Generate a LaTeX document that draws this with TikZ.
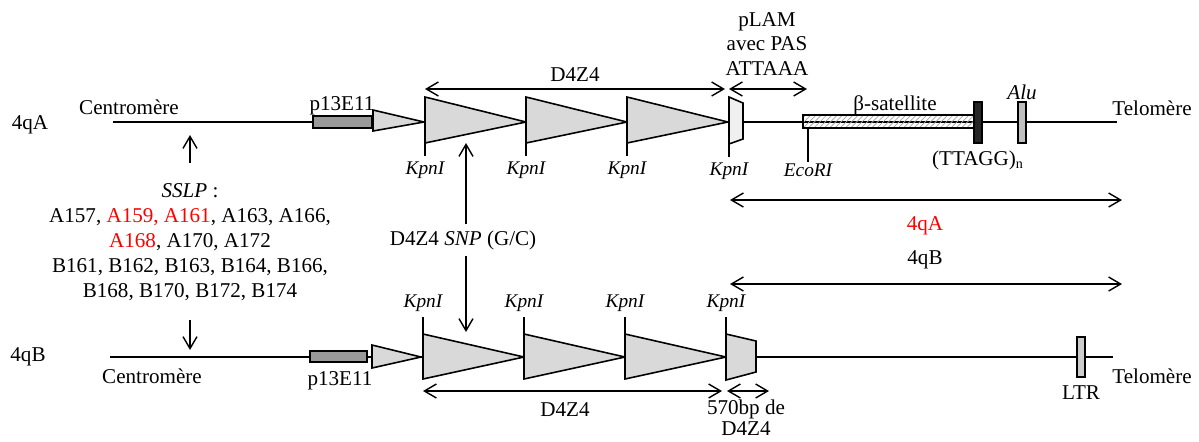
\documentclass[tikz,border=0pt]{standalone}
\usepackage{fontspec}
\setmainfont{Liberation Serif}
\usepackage{xcolor}
\usetikzlibrary{arrows.meta,positioning,calc,patterns}

\begin{document}
\begin{tikzpicture}[
  x=0.02cm,y=-0.02cm,
  txt/.style={font=\fontsize{12}{13.5}\selectfont,inner sep=1pt,align=center},
  site/.style={font=\itshape\fontsize{11}{12}\selectfont,inner sep=1pt},
  chrom/.style={line width=1.2pt},
  rep/.style={draw,line width=0.9pt,fill=black!15},
  probe/.style={draw,line width=0.9pt,fill=black!40},
  bar/.style={draw,line width=0.8pt},
  tick/.style={line width=0.9pt},
  dim/.style={<->,line width=0.8pt},
  pt/.style={->,line width=0.8pt},
  >={Straight Barb[length=2.4mm,width=2.8mm]}]
\useasboundingbox (0,0) rectangle (1199,441);
% 4qA
\coordinate (a0) at (113,122); \coordinate (a1) at (1117,122);
\draw[chrom] (a0) -- (a1);
\node[txt] (qa) at (30,125) {4qA};
\node[txt] (cenA) at (129,107) {Centromère};
\node[txt] (telA) at (1152,108) {Telomère};
\draw[probe] (313,116) rectangle (372,128);
\node[txt] (pA) at (342,106) {p13E11};
\draw[rep] (373,110) -- (373,131) -- (424,122) -- cycle;
\foreach \i in {0,1,2}{
  \draw[rep] ({425+101*\i},97) -- ({425+101*\i},143) -- ({526+101*\i},122) -- cycle;
  \coordinate (kA\i) at ({425+101*\i},143);
}
\draw[rep,fill=black!6] (729,97) -- (729,144) -- (743,139) -- (743,103) -- cycle;
\coordinate (kA3) at (729,144);
\foreach \i in {0,...,3}{
  \node[site] (lkA\i) at ($(kA\i)+(0,27)$) {KpnI};
  \draw[tick] (kA\i) -- ++(0,13);
}
\draw[bar,fill=white,pattern=north east lines,pattern color=black!35] (803,115) rectangle (975,128);
\node[txt] (beta) at (895,105) {β-satellite};
\coordinate (eco) at (808,128);
\draw[tick] (eco) -- ++(0,34);
\node[site] (leco) at (808,170) {EcoRI};
\draw[bar,fill=black!85] (974,102) rectangle (982,143);
\node[txt] (ttagg) at (978,160) {(TTAGG)\textsubscript{n}};
\draw[bar,fill=black!25] (1018,102) rectangle (1026,143);
\node[site,font=\itshape\fontsize{12}{13.5}\selectfont] (alu) at (1022,92) {Alu};
% fleches du haut
\coordinate (dA0) at (425,89); \coordinate (dA1) at (725,89);
\coordinate (pl0) at (729,89); \coordinate (pl1) at (807,89);
\draw[dim] (dA0) -- (dA1);
\draw[dim] (pl0) -- (pl1);
\node[txt] (dzA) at (575,75) {D4Z4};
\node[txt,font=\fontsize{12}{13.8}\selectfont] (plam) at (767,44) {pLAM\\avec PAS\\ATTAAA};
% 4qA / 4qB
\coordinate (ra0) at (730,200); \coordinate (ra1) at (1122,200);
\coordinate (rb0) at (730,284); \coordinate (rb1) at (1122,284);
\draw[dim] (ra0) -- (ra1);
\draw[dim] (rb0) -- (rb1);
\node[txt,text=red] (lqa) at (925,226) {4qA};
\node[txt] (lqb) at (925,260) {4qB};
% SSLP
\node[txt,font=\fontsize{12}{14.2}\selectfont] (sslp) at (190,242)
  {\textit{SSLP} :\\A157, \textcolor{red}{A159, A161}, A163, A166,\\
   \textcolor{red}{A168}, A170, A172\\B161, B162, B163, B164, B166,\\
   B168, B170, B172, B174};
\coordinate (su) at (190,135); \coordinate (sd) at (190,350);
\draw[pt] (190,163) -- (su);
\draw[pt] (190,320) -- (sd);
% SNP
\node[txt] (snp) at (463,240) {D4Z4 \textit{SNP} (G/C)};
\coordinate (snu) at (466,143); \coordinate (snd) at (466,332);
\draw[pt] (snp.north -| snu) ++(0,-4) -- (snu);
\draw[pt] (snp.south -| snd) ++(0,4) -- (snd);
% 4qB
\coordinate (b0) at (110,357); \coordinate (b1) at (1113,357);
\draw[chrom] (b0) -- (b1);
\node[txt] (qb) at (28,357) {4qB};
\node[txt] (cenB) at (152,376) {Centromère};
\node[txt] (telB) at (1152,376) {Telomère};
\draw[probe] (310,351) rectangle (367,362);
\node[txt] (pB) at (340,381) {p13E11};
\draw[rep] (372,345) -- (372,368) -- (421,357) -- cycle;
\foreach \i in {0,1,2}{
  \draw[rep] ({423+101*\i},334) -- ({423+101*\i},379) -- ({524+101*\i},357) -- cycle;
  \coordinate (kB\i) at ({423+101*\i},334);
}
\draw[rep] (726,334) -- (726,380) -- (756,372) -- (756,341) -- cycle;
\coordinate (kB3) at (726,334);
\foreach \i in {0,...,3}{
  \node[site] (lkB\i) at ($(kB\i)+(0,-31)$) {KpnI};
  \draw[tick] (kB\i) -- ++(0,-17);
}
\draw[bar,fill=black!20] (1077,337) rectangle (1085,377);
\node[txt] (ltr) at (1081,393) {LTR};
\coordinate (dB0) at (423,391); \coordinate (dB1) at (722,391);
\coordinate (sb0) at (727,391); \coordinate (sb1) at (769,391);
\draw[dim] (dB0) -- (dB1);
\draw[dim] (sb0) -- (sb1);
\node[txt] (dzB) at (565,410) {D4Z4};
\node[txt,font=\fontsize{12}{12}\selectfont] (bp) at (746,418) {570bp de\\D4Z4};
\end{tikzpicture}
\end{document}
